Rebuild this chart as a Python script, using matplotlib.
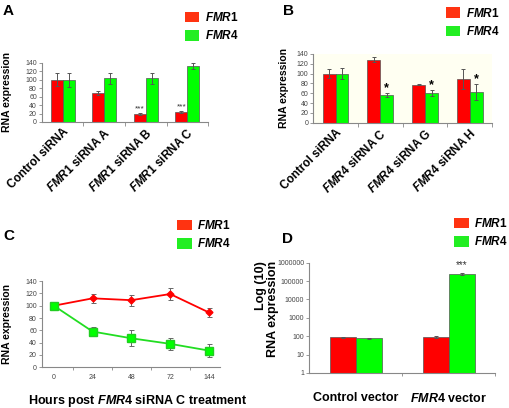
import numpy as np
import matplotlib
matplotlib.use('Agg')
import matplotlib.pyplot as plt
from matplotlib.patches import Patch
from matplotlib.ticker import FixedLocator, FuncFormatter

plt.rcParams['font.family'] = ['Liberation Sans', 'DejaVu Sans']
plt.rcParams['mathtext.fontset'] = 'custom'
plt.rcParams['mathtext.it'] = 'Liberation Sans:italic:bold'
plt.rcParams['mathtext.rm'] = 'Liberation Sans:bold'

RED = '#ff0000'
GREEN = '#00ff00'
LEG_RED = '#ff3311'
LEG_GREEN = '#22ee22'
GRAY = '#888888'

# panel A - FMR1 siRNA knockdown
a_labels = ['Control siRNA', r'$\mathit{FMR1}$ siRNA A', r'$\mathit{FMR1}$ siRNA B', r'$\mathit{FMR1}$ siRNA C']
a_fmr1 = [100, 68, 19, 23]
a_fmr1_err = [15, 5, 2, 2]
a_fmr4 = [100, 103, 104, 133]
a_fmr4_err = [17, 12, 13, 7]
a_stars = ['', '', '***', '***']

# panel B - FMR4 siRNA knockdown
b_labels = ['Control siRNA', r'$\mathit{FMR4}$ siRNA C', r'$\mathit{FMR4}$ siRNA G', r'$\mathit{FMR4}$ siRNA H']
b_fmr1 = [100, 128, 77, 89]
b_fmr1_err = [10, 5, 1, 20]
b_fmr4 = [100, 56, 60, 62]
b_fmr4_err = [11, 4, 6, 16]
b_stars = ['', '*', '*', '*']

# panel C - time course
c_hours = ['0', '24', '48', '72', '144']
c_fmr1 = [100, 112, 109, 119, 89]
c_fmr1_err = [0, 7, 9, 9, 7]
c_fmr4 = [100, 58, 47, 38, 27]
c_fmr4_err = [0, 7, 13, 10, 10]

# panel D - overexpression (log scale)
d_labels = ['Control vector', r'$\mathit{FMR4}$ vector']
d_fmr1 = [85, 92]
d_fmr1_err = [8, 15]
d_fmr4 = [75, 250000]
d_fmr4_err = [3, 30000]
d_stars = ['', '***']

fig = plt.figure(figsize=(5.1, 4.08), dpi=100)


def style_axes(ax):
    for s in ['top', 'right']:
        ax.spines[s].set_visible(False)
    for s in ['left', 'bottom']:
        ax.spines[s].set_color(GRAY)
        ax.spines[s].set_linewidth(0.8)
    ax.tick_params(axis='y', labelsize=5, colors='#444444', length=2, width=0.6, pad=1.5)
    ax.tick_params(axis='y', color=GRAY)


def add_legend(x, y):
    handles = [Patch(facecolor=LEG_RED, edgecolor='none', label=r'$\mathit{FMR1}$'),
               Patch(facecolor=LEG_GREEN, edgecolor='none', label=r'$\mathit{FMR4}$')]
    fig.legend(handles=handles, loc='upper left', bbox_to_anchor=(x, y), frameon=False,
               fontsize=8.5, handlelength=1.25, handleheight=1.0, handletextpad=0.45,
               labelspacing=0.45, borderpad=0, borderaxespad=0)


def bar_panel(rect, labels, v1, e1, v2, e2, face='white'):
    ax = fig.add_axes(rect, facecolor=face)
    x = np.arange(len(labels))
    w = 0.29
    ek = dict(ecolor='#555555', elinewidth=0.7, capsize=1.5, capthick=0.7)
    ax.bar(x - w / 2, v1, w, yerr=e1, color=RED, edgecolor='#555555', linewidth=0.5, error_kw=ek)
    ax.bar(x + w / 2, v2, w, yerr=e2, color=GREEN, edgecolor='#555555', linewidth=0.5, error_kw=ek)
    ax.set_xlim(-0.5, len(labels) - 0.5)
    ax.set_ylim(0, 140)
    ax.set_yticks(range(0, 141, 20))
    style_axes(ax)
    ax.set_xticks(x)
    ax.set_xticklabels(labels, rotation=45, ha='right', rotation_mode='anchor',
                       fontsize=8.5, fontweight='bold')
    ax.xaxis.set_minor_locator(FixedLocator(np.arange(0.5, len(labels) - 0.4, 1)))
    ax.tick_params(axis='x', which='major', length=0, pad=3)
    ax.tick_params(axis='x', which='minor', length=3, width=0.6, color=GRAY)
    return ax, x, w


# ---- A ----
axA, xa, w = bar_panel([0.082, 0.701, 0.326, 0.145], a_labels, a_fmr1, a_fmr1_err,
                       a_fmr4, a_fmr4_err)
for i, s in enumerate(a_stars):
    if s:
        axA.text(xa[i] - w / 2, a_fmr1[i] + a_fmr1_err[i] + 2, s, ha='center', va='bottom',
                 fontsize=6, color='#333333')
axA.set_ylabel('RNA expression', fontsize=7.5, fontweight='bold')
axA.yaxis.set_label_coords(-0.18, 0.5)
fig.text(0.006, 0.99, 'A', fontsize=11, fontweight='bold', va='top')
add_legend(0.362, 0.973)

# ---- B ----
axB, xb, w = bar_panel([0.614, 0.699, 0.351, 0.169], b_labels, b_fmr1, b_fmr1_err,
                       b_fmr4, b_fmr4_err, face='#fffff2')
for i, s in enumerate(b_stars):
    if s:
        axB.text(xb[i] + w / 2, b_fmr4[i] + b_fmr4_err[i] - 1, s, ha='center', va='bottom',
                 fontsize=9, fontweight='bold', color='black')
axB.set_ylabel('RNA expression', fontsize=7.5, fontweight='bold')
axB.yaxis.set_label_coords(-0.135, 0.5)
fig.text(0.555, 0.99, 'B', fontsize=11, fontweight='bold', va='top')
add_legend(0.874, 0.984)

# ---- C ----
axC = fig.add_axes([0.082, 0.100, 0.349, 0.211])
xc = np.arange(len(c_hours))
ek = dict(ecolor='#666666', elinewidth=0.7, capsize=1.8, capthick=0.7)
axC.errorbar(xc, c_fmr1, yerr=c_fmr1_err, color=RED, lw=1.3, marker='D', ms=3.5,
             mfc=RED, mec=RED, **ek)
axC.errorbar(xc, c_fmr4, yerr=c_fmr4_err, color='#22dd22', lw=1.3, marker='s', ms=5.5,
             mfc=GREEN, mec='#22cc22', **ek)
axC.set_xlim(-0.31, 4.28)
axC.set_ylim(0, 140)
axC.set_yticks(range(0, 141, 20))
style_axes(axC)
axC.set_xticks(xc)
axC.set_xticklabels(c_hours, fontsize=5, color='#444444')
axC.xaxis.set_minor_locator(FixedLocator(np.arange(0.5, 4.4, 1)))
axC.tick_params(axis='x', which='major', length=0, pad=5)
axC.tick_params(axis='x', which='minor', length=2.5, width=0.6, color=GRAY)
axC.set_ylabel('RNA expression', fontsize=7.5, fontweight='bold')
axC.yaxis.set_label_coords(-0.17, 0.5)
axC.set_xlabel(r'Hours post $\mathit{FMR4}$ siRNA C treatment', fontsize=9, fontweight='bold')
axC.xaxis.set_label_coords(0.54, -0.30)
fig.text(0.006, 0.438, 'C', fontsize=11, fontweight='bold', va='top')
add_legend(0.347, 0.463)

# ---- D ----
axD = fig.add_axes([0.606, 0.086, 0.365, 0.270])
xd = np.arange(len(d_labels))
wd = 0.28
ek = dict(ecolor='#555555', elinewidth=0.7, capsize=1.5, capthick=0.7)
axD.bar(xd - wd / 2, np.array(d_fmr1) - 1, wd, bottom=1, yerr=d_fmr1_err, color=RED,
        edgecolor='#555555', linewidth=0.5, error_kw=ek)
axD.bar(xd + wd / 2, np.array(d_fmr4) - 1, wd, bottom=1, yerr=d_fmr4_err, color=GREEN,
        edgecolor='#555555', linewidth=0.5, error_kw=ek)
axD.set_yscale('log')
axD.set_ylim(1, 1e6)
axD.set_xlim(-0.5, 1.5)
axD.yaxis.set_major_locator(FixedLocator([10 ** k for k in range(7)]))
axD.yaxis.set_minor_locator(FixedLocator([]))
axD.yaxis.set_major_formatter(FuncFormatter(lambda v, p: '%d' % v))
style_axes(axD)
axD.set_xticks(xd)
axD.set_xticklabels(d_labels, fontsize=9, fontweight='bold')
axD.xaxis.set_minor_locator(FixedLocator([0.5, 1.5]))
axD.tick_params(axis='x', which='major', length=0, pad=14)
axD.tick_params(axis='x', which='minor', length=2.5, width=0.6, color=GRAY)
for i, s in enumerate(d_stars):
    if s:
        axD.text(xd[i] + wd / 2, d_fmr4[i] * 1.5, s, ha='center', va='bottom',
                 fontsize=7, color='#333333')
axD.set_ylabel('Log (10)\nRNA expression', fontsize=9, fontweight='bold', linespacing=1.0,
               multialignment='right')
axD.yaxis.set_label_coords(-0.16, 0.58)
fig.text(0.553, 0.432, 'D', fontsize=11, fontweight='bold', va='top')
add_legend(0.89, 0.468)

fig.savefig('out.png', dpi=100)
